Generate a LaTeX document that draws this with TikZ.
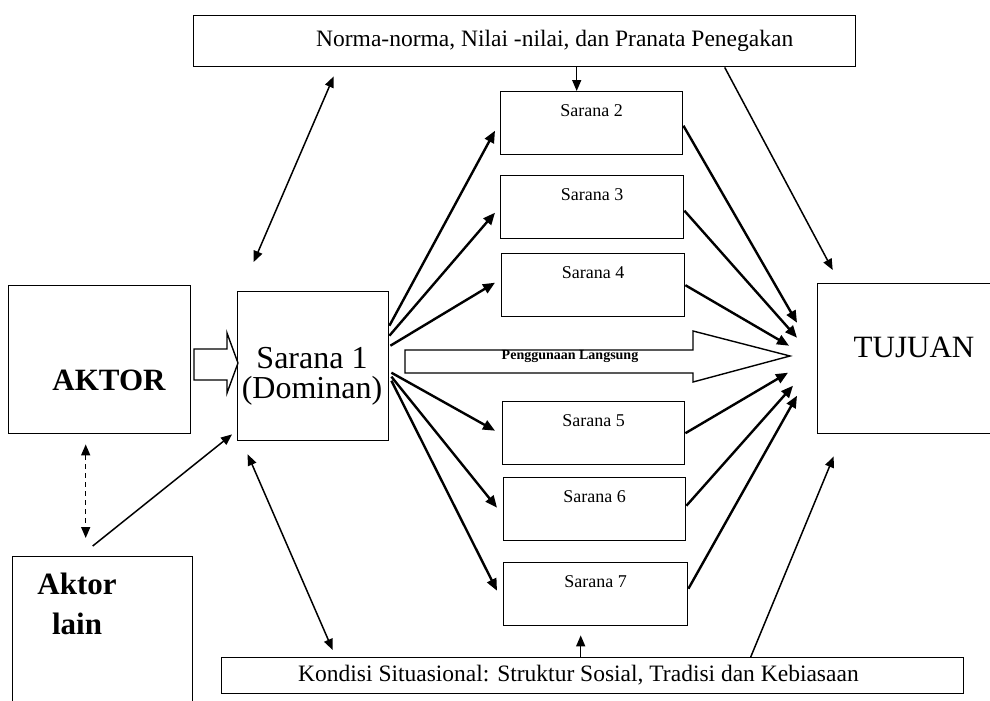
\documentclass[tikz,border=0pt]{standalone}
\usepackage{fontspec}
\setmainfont{Liberation Serif}
\usetikzlibrary{arrows.meta,calc}
\begin{document}
\begin{tikzpicture}[x=1pt,y=-1pt,
  box/.style={draw, line width=1.4pt, inner sep=0pt, anchor=north west},
  sbox/.style={box, minimum height=63pt},
  slabel/.style={anchor=center, yshift=-20pt, inner sep=0pt, font=\fontsize{18}{20}\selectfont},
  tip/.style={Triangle[length=11pt,width=9pt]},
  link/.style={line width=1.5pt, -{Triangle[length=11pt,width=9pt]}},
  both/.style={line width=1.5pt, {Triangle[length=11pt,width=9pt]}-{Triangle[length=11pt,width=9pt]}},
  fan/.style={line width=2.4pt, -{Triangle[length=12pt,width=10pt]}},
  hollow/.style={draw, line width=1.4pt, fill=white, line join=miter},
  bigtext/.style={font=\fontsize{23.5}{28}\selectfont, inner sep=0pt}
]
\useasboundingbox (0,0) rectangle (990,701);
\clip (0,0) rectangle (990,701);
\fill[white] (0,0) rectangle (990,701);

% frame boxes
\node[box, minimum width=662pt, minimum height=51pt] (norms) at (193,15) {};
\node[bigtext, anchor=west] (normstext) at (316,41) {Norma-norma, Nilai -nilai, dan Pranata Penegakan};

\node[box, minimum width=742pt, minimum height=36pt] (kondisi) at (221,657) {};
\node[bigtext, anchor=west] (kondisitext) at (298,675) {Kondisi Situasional: Struktur Sosial, Tradisi dan Kebiasaan};

\node[box, minimum width=182pt, minimum height=148pt] (aktor) at (8,285) {};
\node[font=\fontsize{31}{36}\selectfont\bfseries, inner sep=0pt] (aktortext) at (109,380) {AKTOR};

\node[box, minimum width=151pt, minimum height=149pt] (sar1) at (237,291) {};
\node[align=center, font=\fontsize{32}{30}\selectfont, inner sep=0pt] (sar1text) at (312,376) {Sarana 1\\(Dominan)};

\node[box, minimum width=183pt, minimum height=150pt] (tujuan) at (817,283) {};
\node[font=\fontsize{31}{36}\selectfont, inner sep=0pt] (tujuantext) at (914,347) {TUJUAN};

\node[box, minimum width=180pt, minimum height=170pt] (aktorlain) at (12,556) {};
\node[align=center, font=\fontsize{31}{40}\selectfont\bfseries, inner sep=0pt] (aktorlaintext) at (77,604) {Aktor\\lain};

% secondary means
\node[sbox, minimum width=182pt, label={[slabel,name=t2]north:Sarana 2}] (s2) at (500,91) {};
\node[sbox, minimum width=183pt, label={[slabel,name=t3]north:Sarana 3}] (s3) at (500,175) {};
\node[sbox, minimum width=183pt, label={[slabel,name=t4]north:Sarana 4}] (s4) at (501,253) {};
\node[sbox, minimum width=182pt, label={[slabel,name=t5]north:Sarana 5}] (s5) at (502,401) {};
\node[sbox, minimum width=182pt, label={[slabel,name=t6]north:Sarana 6}] (s6) at (503,477) {};
\node[sbox, minimum width=184pt, label={[slabel,name=t7]north:Sarana 7}] (s7) at (503,562) {};

% hollow block arrows
\draw[hollow] (194,349) -- (227,349) -- (227,333) -- (238,363) -- (227,393) -- (227,380) -- (194,380) -- cycle;
\draw[hollow] (405,350) -- (693,350) -- (693,331) -- (790,356) -- (693,382) -- (693,373) -- (405,373) -- cycle;
\node[font=\fontsize{14}{16}\selectfont\bfseries, inner sep=0pt] (direct) at (570,356) {Penggunaan Langsung};

% vertical links to the outer frames
\coordinate (n2) at ([xshift=-15pt]s2.north);
\draw[link] (n2 |- norms.south) -- (n2);
\coordinate (k7) at ([xshift=-15pt]s7.south);
\draw[link, shorten >=9pt] (k7 |- kondisi.north) -- (k7);

% two-way influences
\draw[both] ([xshift=-191pt,yshift=-9pt]norms.south) -- ([xshift=-59.5pt,yshift=29pt]sar1.north);
\draw[both] ([xshift=-65.5pt,yshift=-13pt]sar1.south) -- ([xshift=-260pt,yshift=7pt]kondisi.north);
\draw[both, dash pattern=on 5pt off 4pt] ([xshift=-14pt,yshift=-10pt]aktor.south) -- ([xshift=-17pt,yshift=18pt]aktorlain.north);
\draw[link] ([xshift=-10pt,yshift=10pt]aktorlain.north) -- ([xshift=-5pt,yshift=7pt]sar1.south west);

% frames to the goal
\draw[link] ([xshift=200pt]norms.south) -- ([xshift=-76.5pt,yshift=13pt]tujuan.north);
\draw[link] ([xshift=158pt]kondisi.north) -- ([xshift=-75.5pt,yshift=-22pt]tujuan.south);

% fan out from the dominant means
\draw[fan] ([yshift=40.5pt]sar1.east) -- ([xshift=-5pt,yshift=-7.5pt]s2.west);
\draw[fan] ([yshift=30.5pt]sar1.east) -- ([xshift=-5pt,yshift=-5.5pt]s3.west);
\draw[fan] ([xshift=1pt,yshift=20.5pt]sar1.east) -- ([xshift=-6pt,yshift=2.5pt]s4.west);
\draw[fan] ([xshift=2pt,yshift=-6.5pt]sar1.east) -- ([xshift=-7pt,yshift=2.5pt]s5.west);
\draw[fan] ([xshift=2pt,yshift=-10.5pt]sar1.east) -- ([xshift=-6pt,yshift=1.5pt]s6.west);
\draw[fan] ([xshift=2pt,yshift=-14.5pt]sar1.east) -- ([xshift=-6pt,yshift=3.5pt]s7.west);

% fan in to the goal
\draw[fan] ([yshift=-2.5pt]s2.east) -- ([xshift=-20pt,yshift=36pt]tujuan.west);
\draw[fan] ([yshift=-3.5pt]s3.east) -- ([xshift=-20pt,yshift=21pt]tujuan.west);
\draw[fan] (s4.east) -- ([xshift=-28pt,yshift=13pt]tujuan.west);
\draw[fan] (s5.east) -- ([xshift=-29pt,yshift=-14pt]tujuan.west);
\draw[fan] ([yshift=3.5pt]s6.east) -- ([xshift=-24pt,yshift=-27pt]tujuan.west);
\draw[fan] ([yshift=5.5pt]s7.east) -- ([xshift=-20pt,yshift=-37pt]tujuan.west);
\end{tikzpicture}
\end{document}
